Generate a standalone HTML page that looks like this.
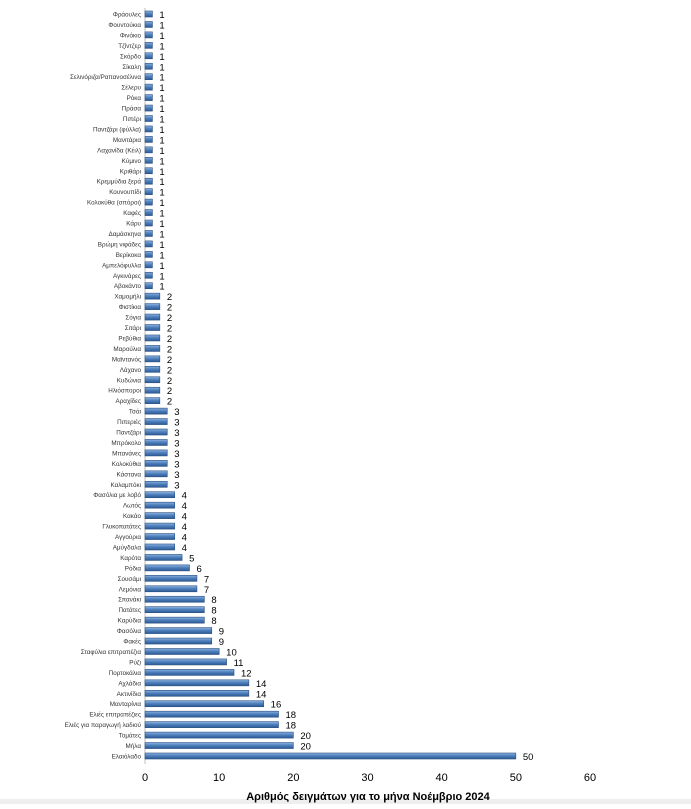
<!DOCTYPE html>
<html><head><meta charset="utf-8">
<style>
html,body{margin:0;padding:0;background:#fff;}
body{width:691px;height:804px;overflow:hidden;font-family:"Liberation Sans","DejaVu Sans",sans-serif;}
</style></head>
<body>
<svg id="chart" width="691" height="804" xmlns="http://www.w3.org/2000/svg">
<defs>
<linearGradient id="bg" x1="0" y1="0" x2="0" y2="1">
<stop offset="0" stop-color="#8fb4e3"/><stop offset="0.45" stop-color="#4f81bd"/><stop offset="1" stop-color="#2c5a96"/>
</linearGradient>
</defs>
<rect x="0" y="799" width="691" height="5" fill="#eeeeee"/>
<text x="368" y="800" text-anchor="middle" font-size="11" font-weight="bold" fill="#000">Αριθμός δειγμάτων για το μήνα Νοέμβριο 2024</text>
</svg>
<script>
const categories=["Φράουλες","Φουντούκια","Φινόκιο","Τζίντζερ","Σκόρδο","Σίκαλη","Σελινόριζα/Ραπανοσέλινα","Σέλερυ","Ρόκα","Πράσα","Πιπέρι","Παντζάρι (φύλλα)","Μανιτάρια","Λαχανίδα (Κέιλ)","Κύμινο","Κριθάρι","Κρεμμύδια ξερά","Κουνουπίδι","Κολοκύθα (σπόροι)","Καφές","Κάρυ","Δαμάσκηνα","Βρώμη νιφάδες","Βερίκοκα","Αμπελόφυλλα","Αγκινάρες","Αβοκάντο","Χαμομήλι","Φιστίκια","Σόγια","Σιτάρι","Ρεβύθια","Μαρούλια","Μαϊντανός","Λάχανο","Κυδώνια","Ηλιόσποροι","Αραχίδες","Τσάι","Πιπεριές","Παντζάρι","Μπρόκολο","Μπανάνες","Κολοκύθια","Κάστανα","Καλαμπόκι","Φασόλια με λοβό","Λωτός","Κακάο","Γλυκοπατάτες","Αγγούρια","Αμύγδαλα","Καρότα","Ρόδια","Σουσάμι","Λεμόνια","Σπανάκι","Πατάτες","Καρύδια","Φασόλια","Φακές","Σταφύλια επιτραπέζια","Ρύζι","Πορτοκάλια","Αχλάδια","Ακτινίδια","Μανταρίνια","Ελιές επιτραπέζιες","Ελιές για παραγωγή λαδιού","Τομάτες","Μήλα","Ελαιόλαδο"];
const values=[1,1,1,1,1,1,1,1,1,1,1,1,1,1,1,1,1,1,1,1,1,1,1,1,1,1,1,2,2,2,2,2,2,2,2,2,2,2,3,3,3,3,3,3,3,3,4,4,4,4,4,4,5,6,7,7,8,8,8,9,9,10,11,12,14,14,16,18,18,20,20,50];
const ticks=[0,10,20,30,40,50,60];
const NS="http://www.w3.org/2000/svg";
const svg=document.getElementById('chart');
const x0=145,x1=590,xmax=60;
const xs=v=>x0+(x1-x0)*v/xmax;
const yTop=14,yBot=756;
const ys=i=>yTop+(yBot-yTop)*i/(categories.length-1);
function mk(t,a){const e=document.createElementNS(NS,t);for(const k in a)e.setAttribute(k,a[k]);svg.appendChild(e);return e;}
const ax=mk('line',{x1:x0,y1:8,x2:x0,y2:764,stroke:'#bfbfbf','stroke-width':1});


ticks.forEach(t=>{
  const tl=mk('text',{x:xs(t),y:781,'text-anchor':'middle','font-size':11,fill:'#000'});
  tl.textContent=t;
  
  
});
categories.forEach((c,i)=>{
  const y=ys(i);
  const lab=mk('text',{x:x0-4,y:y+2.5,'text-anchor':'end','font-size':6.3,fill:'#333'});
  lab.textContent=c;
  
  
  const b=mk('rect',{x:x0,y:y-3,width:xs(values[i])-x0,height:6,fill:'url(#bg)',stroke:'#2a4f80','stroke-width':0.6});
  
  
  const v=mk('text',{x:xs(values[i])+7,y:y+4,'font-size':9.5,fill:'#000'});
  v.textContent=values[i];
  
  
});
</script>
</body></html>
